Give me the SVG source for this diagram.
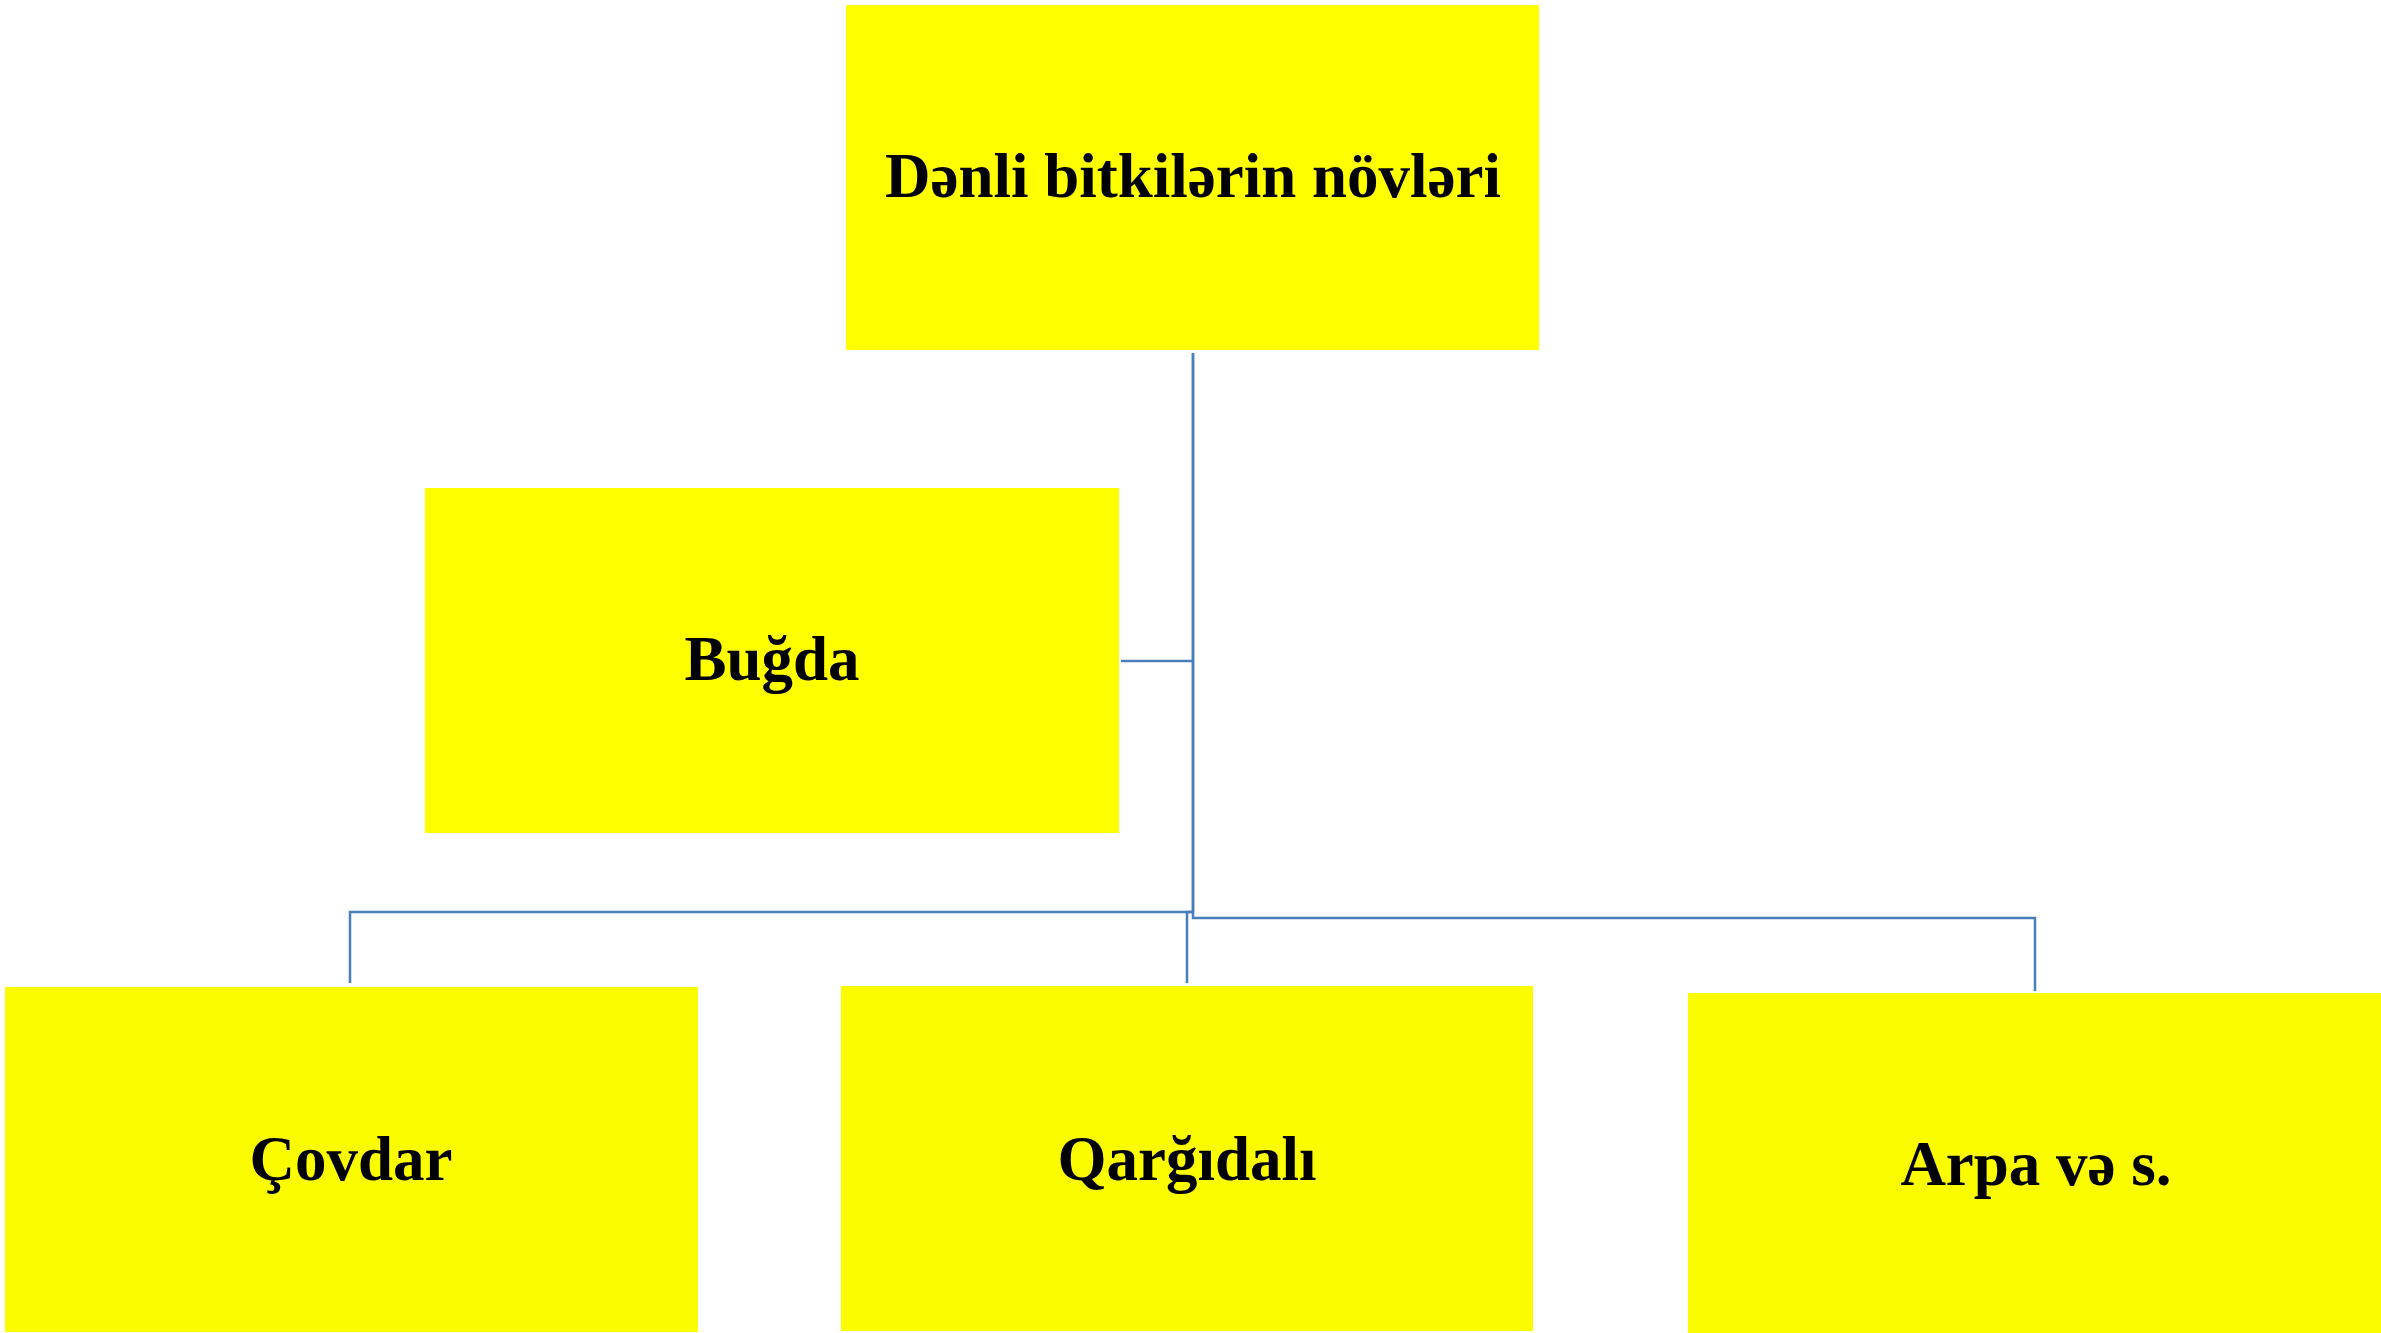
<svg xmlns="http://www.w3.org/2000/svg" width="2381" height="1333" viewBox="0 0 2381 1333">
<style>
.box{fill:#FFFF00;stroke:none}
.box2{fill:#FCFC00;stroke:none}
.lbl{font-family:"Liberation Serif","Times New Roman",serif;font-weight:bold;font-size:63px;fill:#000;text-anchor:middle}
.conn{fill:none;stroke:#4A7EBB;stroke-width:2.5}
</style>
<rect width="2381" height="1333" fill="#FFFFFF"/>
<g id="connectors">
<path class="conn" d="M1193,353 V912 H350 V983"/>
<path class="conn" d="M1193,912 H1187 V983"/>
<path class="conn" d="M1193,353 V918 H2035 V991"/>
<path class="conn" d="M1121,661 H1193"/>
</g>
<g id="node-root">
<rect class="box" x="846" y="5" width="693" height="345"/>
<text class="lbl" x="1193" y="197">Dənli bitkilərin növləri</text>
</g>
<g id="node-bugda">
<rect class="box" x="425" y="488" width="694" height="345"/>
<text class="lbl" x="772" y="680">Buğda</text>
</g>
<g id="node-covdar">
<rect class="box2" x="5" y="987" width="693" height="345"/>
<text class="lbl" x="351" y="1180">Çovdar</text>
</g>
<g id="node-qargidali">
<rect class="box2" x="841" y="986" width="692" height="345"/>
<text class="lbl" x="1187" y="1180">Qarğıdalı</text>
</g>
<g id="node-arpa">
<rect class="box2" x="1688" y="993" width="693" height="340"/>
<text class="lbl" x="2036" y="1185">Arpa və s.</text>
</g>
</svg>
